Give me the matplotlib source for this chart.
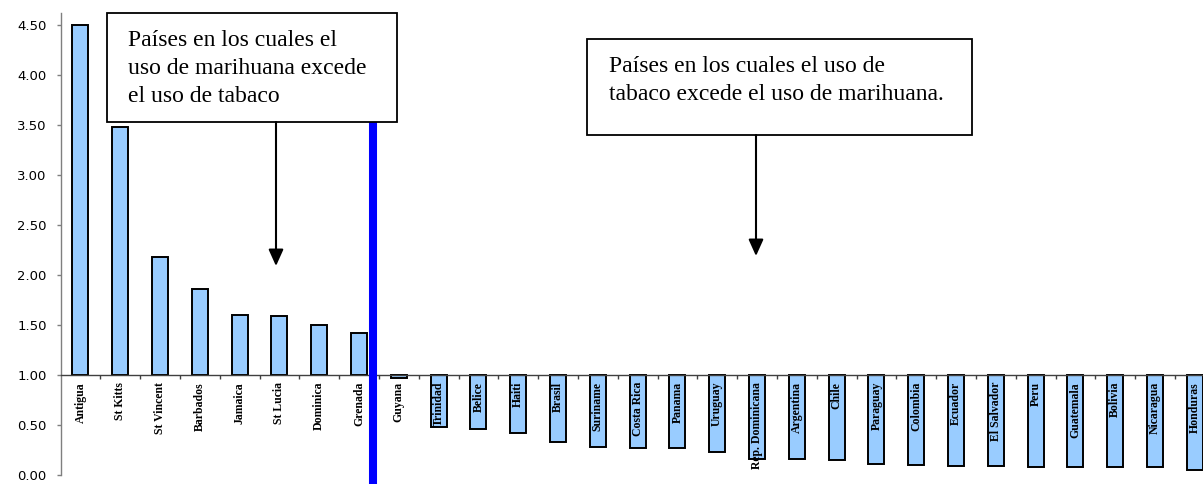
import matplotlib
matplotlib.use("Agg")
import matplotlib.pyplot as plt
from matplotlib.patches import Rectangle, FancyArrowPatch
from matplotlib.ticker import FixedLocator, NullFormatter, FixedFormatter

countries = ["Antigua", "St Kitts", "St Vincent", "Barbados", "Jamaica", "St Lucia",
             "Dominica", "Grenada", "Guyana", "Trinidad", "Belice", "Haiti", "Brasil",
             "Suriname", "Costa Rica", "Panama", "Uruguay", "Rep. Dominicana",
             "Argentina", "Chile", "Paraguay", "Colombia", "Ecuador", "El Salvador",
             "Peru", "Guatemala", "Bolivia", "Nicaragua", "Honduras"]
ratios = [4.50, 3.48, 2.18, 1.86, 1.60, 1.59, 1.50, 1.42, 0.97, 0.48, 0.46, 0.42,
          0.33, 0.28, 0.27, 0.27, 0.23, 0.16, 0.16, 0.15, 0.11, 0.10, 0.09, 0.09,
          0.08, 0.08, 0.08, 0.08, 0.05]
baseline_value = 1.0
y_ticks = [0.0, 0.5, 1.0, 1.5, 2.0, 2.5, 3.0, 3.5, 4.0, 4.5]
y_tick_labels = ["0.00", "0.50", "1.00", "1.50", "2.00", "2.50", "3.00", "3.50", "4.00", "4.50"]
box1_lines = ["Países en los cuales el", "uso de marihuana excede", "el uso de tabaco"]
box2_lines = ["Países en los cuales el uso de", "tabaco excede el uso de marihuana."]

W, H = 1203, 484
fig = plt.figure(figsize=(W / 100, H / 100), dpi=100)
n = len(countries)
px_per_cat = 39.8
ax = fig.add_axes([60.5 / W, 9 / H, n * px_per_cat / W, 462 / H])

x = list(range(n))
heights = [r - baseline_value for r in ratios]
ax.bar(x, heights, bottom=baseline_value, width=0.4, color="#99CCFF",
       edgecolor="black", linewidth=1.4, zorder=1)

ax.set_xlim(-0.5, n - 0.5)
ax.set_ylim(0, 4.62)

axis_color = "#7f7f7f"
for s in ["top", "right"]:
    ax.spines[s].set_visible(False)
ax.spines["left"].set_color(axis_color)
ax.spines["left"].set_linewidth(1.0)
ax.spines["bottom"].set_position(("data", baseline_value))
ax.spines["bottom"].set_color("#404040")
ax.spines["bottom"].set_linewidth(1.0)

ax.set_yticks(y_ticks)
ax.set_yticklabels(y_tick_labels, fontsize=9.5, family="DejaVu Sans")
ax.tick_params(axis="y", direction="out", length=3, width=1.0, color=axis_color, pad=7)

ax.xaxis.set_major_locator(FixedLocator([i + 0.5 for i in range(n - 1)]))
ax.xaxis.set_major_formatter(NullFormatter())
ax.xaxis.set_minor_locator(FixedLocator(x))
ax.xaxis.set_minor_formatter(FixedFormatter(countries))
ax.tick_params(axis="x", which="major", direction="out", length=3, width=1.0, color="#404040")
ax.tick_params(axis="x", which="minor", length=0, pad=5)
for lbl in ax.xaxis.get_minorticklabels():
    lbl.set_rotation(90)
    lbl.set_fontsize(8.5)
    lbl.set_family("Liberation Serif")
    lbl.set_fontweight("bold")
    lbl.set_va("top")
    lbl.set_ha("center")

# blue divider line
ax.plot([7.34, 7.34], [-0.12, 3.53], color="#0000FF", lw=5.8, clip_on=False,
        solid_capstyle="butt", zorder=5)


def fx(px):
    return px / W


def fy(py):
    return 1 - py / H


def add_box(x0, y0, x1, y1):
    r = Rectangle((fx(x0), fy(y1)), (x1 - x0) / W, (y1 - y0) / H,
                  transform=fig.transFigure, facecolor="white", edgecolor="black",
                  linewidth=1.3, zorder=10)
    fig.add_artist(r)


def add_arrow(xp, y0, y1):
    a = FancyArrowPatch((fx(xp), fy(y0)), (fx(xp), fy(y1)), transform=fig.transFigure,
                        arrowstyle="-|>,head_length=1.0,head_width=0.45",
                        mutation_scale=10, color="black", linewidth=1.5,
                        shrinkA=0, shrinkB=0, zorder=10)
    fig.add_artist(a)


add_box(107, 13, 397, 122)
for i, line in enumerate(box1_lines):
    fig.text(fx(128), fy(46 + 28 * i), line, fontsize=17, family="Liberation Serif",
             va="baseline", ha="left", zorder=11)
add_arrow(276, 122, 266)

add_box(587, 39, 972, 135)
for i, line in enumerate(box2_lines):
    fig.text(fx(609), fy(72 + 28 * i), line, fontsize=17, family="Liberation Serif",
             va="baseline", ha="left", zorder=11)
add_arrow(756, 135, 256)

fig.savefig("out.png", dpi=100)
